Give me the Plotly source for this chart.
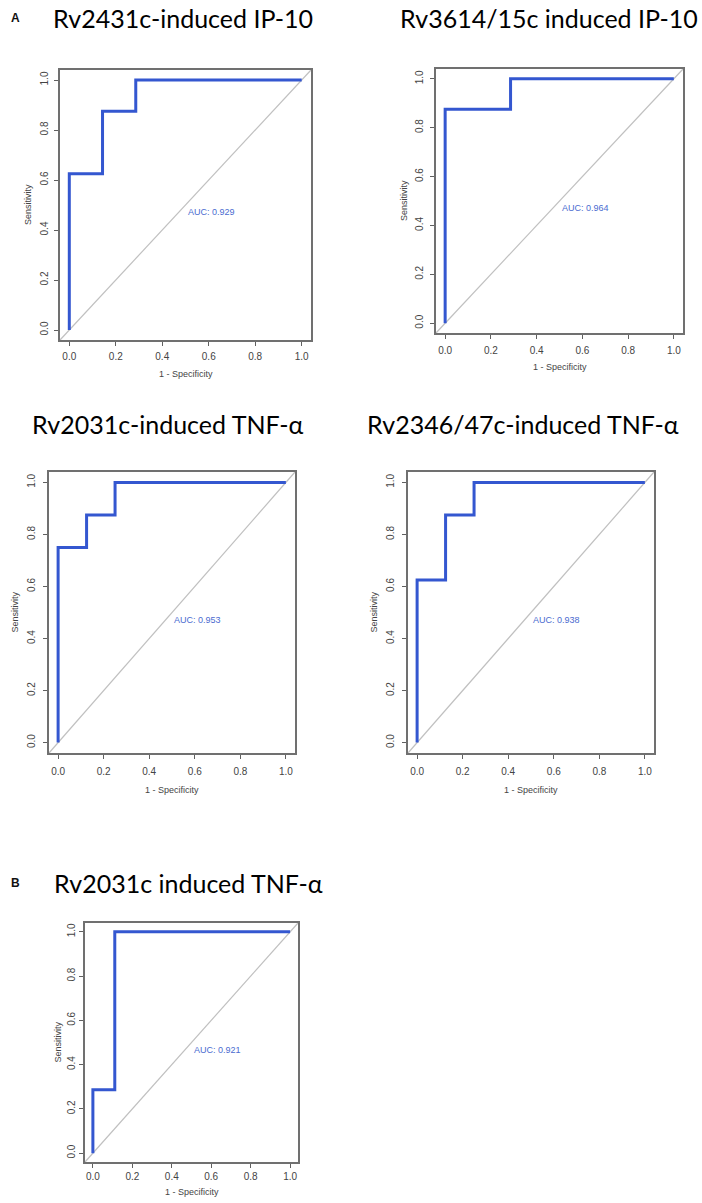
import plotly.graph_objects as go

# ROC data (1 - specificity, sensitivity, AUC)
titles = ["Rv2431c-induced IP-10", "Rv3614/15c induced IP-10",
          "Rv2031c-induced TNF-α", "Rv2346/47c-induced TNF-α",
          "Rv2031c induced TNF-α"]
fpr_1 = [0, 0, 0.143, 0.286, 1]
tpr_1 = [0, 0.625, 0.875, 1, 1]
fpr_2 = [0, 0, 0.286, 1]
tpr_2 = [0, 0.875, 1, 1]
fpr_3 = [0, 0, 0.125, 0.25, 1]
tpr_3 = [0, 0.75, 0.875, 1, 1]
fpr_4 = [0, 0, 0.125, 0.25, 1]
tpr_4 = [0, 0.625, 0.875, 1, 1]
fpr_5 = [0, 0, 0.111, 1]
tpr_5 = [0, 0.286, 1, 1]
auc = [0.929, 0.964, 0.953, 0.938, 0.921]
ticks = [0, 0.2, 0.4, 0.6, 0.8, 1.0]

curves = [(fpr_1, tpr_1), (fpr_2, tpr_2), (fpr_3, tpr_3), (fpr_4, tpr_4), (fpr_5, tpr_5)]

W, H = 702, 1203
# plot boxes in pixels: left, right, top, bottom, title centre x, title y, tick offset, axis-title offset
boxes = [
    (60, 311, 70, 340, 183, 18, 17, 34),
    (436, 683, 69, 333, 549, 18, 18, 34),
    (49, 295, 472, 753, 168, 424, 19, 37),
    (408, 654, 472, 753, 523, 424, 19, 37),
    (85, 298, 923, 1162, 188, 883, 15, 30),
]

BLUE = "#3457d0"
fig = go.Figure()
annotations = []
shapes = []

for i, ((fx, ty), (l, r, t, b, tx, tyy, toff, aoff)) in enumerate(zip(curves, boxes)):
    n = "" if i == 0 else str(i + 1)
    xa, ya = "x" + n, "y" + n
    fig.add_trace(go.Scatter(x=fx, y=ty, mode="lines", line_shape="hv",
                             line=dict(color=BLUE, width=3),
                             xaxis=xa, yaxis=ya, showlegend=False, hoverinfo="skip"))
    ax = dict(range=[-0.04, 1.04], tickvals=ticks, tickformat=".1f",
              showgrid=False, zeroline=False, showline=True, mirror=True,
              linecolor="#707070", linewidth=1.5, ticks="outside", ticklen=4,
              tickcolor="#606060", tickwidth=1,
              tickfont=dict(family="Liberation Sans", size=10, color="#444"))
    fig.layout["xaxis" + n] = dict(ax, domain=[l / W, r / W], anchor=ya,
                                   ticklabelstandoff=max(toff - 15, 0))
    fig.layout["yaxis" + n] = dict(ax, domain=[1 - b / H, 1 - t / H], anchor=xa,
                                   tickangle=-90, ticklabelstandoff=max(toff - 15, 0))
    # diagonal reference line across the plot region
    shapes.append(dict(type="line", xref=xa + " domain", yref=ya + " domain",
                       x0=0, y0=0, x1=1, y1=1, layer="below",
                       line=dict(color="#c0c0c0", width=1.2)))
    annotations.append(dict(x=0.5, y=0.5, xref=xa, yref=ya, xanchor="left", yanchor="top",
                            text="AUC: %.3f" % auc[i], showarrow=False,
                            font=dict(family="Liberation Sans", size=9, color="#4a6bd0")))
    annotations.append(dict(x=0.5, y=0, xref=xa + " domain", yref=ya + " domain",
                            yshift=-aoff, yanchor="middle", text="1 - Specificity",
                            showarrow=False,
                            font=dict(family="Liberation Sans", size=9, color="#444")))
    annotations.append(dict(x=0, y=0.5, xref=xa + " domain", yref=ya + " domain",
                            xshift=-(aoff - 2), xanchor="center", textangle=-90,
                            text="Sensitivity", showarrow=False,
                            font=dict(family="Liberation Sans", size=9, color="#444")))
    annotations.append(dict(x=tx / W, y=1 - tyy / H, xref="paper", yref="paper",
                            xanchor="center", yanchor="middle", text=titles[i],
                            showarrow=False,
                            font=dict(family="Lato", size=25, color="#000")))

for lab, py in [("A", 18), ("B", 883)]:
    annotations.append(dict(x=15 / W, y=1 - py / H, xref="paper", yref="paper",
                            xanchor="center", yanchor="middle", text="<b>" + lab + "</b>",
                            showarrow=False,
                            font=dict(family="Liberation Sans", size=12, color="#111")))

fig.update_layout(width=W, height=H, margin=dict(l=0, r=0, t=0, b=0),
                  paper_bgcolor="white", plot_bgcolor="white", hovermode=False,
                  annotations=annotations, shapes=shapes)

# drop the page's default body margin so the figure sits at the window corner
fig.write_html("out.html", config={"displayModeBar": False},
               post_script="document.body.style.margin='0';")
